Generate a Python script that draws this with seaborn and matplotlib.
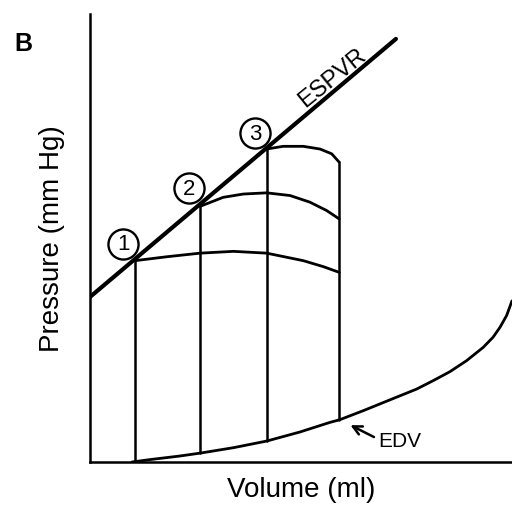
import matplotlib
matplotlib.use("Agg")
import matplotlib.pyplot as plt
import seaborn as sns

sns.set_style("white")
plt.rcParams['font.family'] = ['Liberation Sans', 'DejaVu Sans']
plt.rcParams['text.color'] = 'black'
plt.rcParams['axes.labelcolor'] = 'black'

# end-systolic pressure-volume relation
espvr_v = [0, 102]
espvr_p = [55, 141]

# end-diastolic (filling) curve
edv_v = [14, 20, 30, 37, 48, 59, 70, 80, 83.3, 91.1, 102.2, 108.9, 114.4, 120,
         125.6, 131.1, 134.4, 136.7, 138.9, 140.7]
edv_p = [0, 0.8, 2, 3, 4.8, 7, 10, 13.2, 14.1, 17.1, 21.6, 24.3, 27.1, 30.1,
         33.8, 38.2, 41.6, 44.9, 48.8, 53.7]

# ejection curves of the three loops (start on ESPVR, end at common EDV)
c1_v = [15, 25.6, 36.7, 47.8, 58.9, 71.1, 77.8, 83.1]
c1_p = [67.1, 68.4, 69.6, 70.2, 69.6, 67.1, 65.1, 63.2]
c2_v = [36.7, 44.4, 51.1, 58.9, 66.7, 73.3, 78.9, 83.1]
c2_p = [85.2, 88.2, 89.3, 89.7, 88.8, 86.6, 83.8, 81.0]
c3_v = [58.9, 64.4, 71.1, 76.7, 80.6, 83.1]
c3_p = [104.3, 105.2, 105.2, 104.3, 102.7, 99.9]

# vertical isovolumic segments
vert_v = [15, 36.7, 58.9, 83.1]
vert_lo = [0.3, 3, 7, 14]
vert_hi = [67.1, 85.2, 104.3, 99.9]

# numbered markers
lab_v = [11.1, 33, 55]
lab_p = [72.7, 91.3, 109.6]
lab_txt = ["1", "2", "3"]

fig = plt.figure(figsize=(5.12, 5.10), dpi=100)
ax = fig.add_axes([90 / 512, 47 / 510, 422 / 512, 448 / 510])

k = dict(color="black", sort=False, estimator=None, ax=ax, legend=False)
sns.lineplot(x=espvr_v, y=espvr_p, linewidth=3.0, **k)
sns.lineplot(x=edv_v, y=edv_p, linewidth=2.0, **k)
for cv, cp in [(c1_v, c1_p), (c2_v, c2_p), (c3_v, c3_p)]:
    sns.lineplot(x=cv, y=cp, linewidth=2.0, **k)
for v, lo, hi in zip(vert_v, vert_lo, vert_hi):
    sns.lineplot(x=[v, v], y=[lo, hi], linewidth=1.8, **k)

sns.scatterplot(x=lab_v, y=lab_p, s=470, facecolor="white", edgecolor="black",
                linewidth=1.7, ax=ax, zorder=5, legend=False)
for v, p, t in zip(lab_v, lab_p, lab_txt):
    ax.text(v, p, t, ha="center", va="center", fontsize=16, zorder=6)

ax.text(80.8, 128.3, "ESPVR", rotation=39, ha="center", va="center", fontsize=17)
ax.text(96, 7.3, "EDV", ha="left", va="center", fontsize=15)
ax.annotate("", xy=(86, 12.7), xytext=(95.5, 7.9),
            arrowprops=dict(arrowstyle="->", color="black", lw=1.8, mutation_scale=16))

ax.set_xlim(0, 140.7)
ax.set_ylim(0, 149.3)
ax.set_xticks([])
ax.set_yticks([])
ax.set_xlabel("Volume (ml)", fontsize=20, labelpad=10)
ax.set_ylabel("Pressure (mm Hg)", fontsize=20, labelpad=18)
for s in ["top", "right"]:
    ax.spines[s].set_visible(False)
for s in ["left", "bottom"]:
    ax.spines[s].set_linewidth(1.8)
    ax.spines[s].set_color("black")

fig.text(23 / 512, 1 - 44 / 510, "B", fontsize=18, fontweight="bold", ha="center", va="center")

fig.savefig("out.png", dpi=100, facecolor="white")
